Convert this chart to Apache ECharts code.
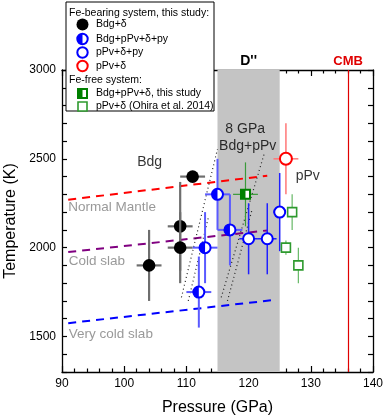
<!DOCTYPE html>
<html><head><meta charset="utf-8">
<script src="https://cdn.jsdelivr.net/npm/echarts@6/dist/echarts.min.js"></script>
<style>html,body{margin:0;padding:0;background:#fff}#c{width:390px;height:420px}</style>
</head><body><div id="c"></div>
<script>
// [pressure GPa, temperature K, pressure error, temperature error]
const bdgDelta = [[104,1900,2,200],[109,2120,2,250],[109,2000,2,200],[111,2400,2,0]];
const bdgPpvDeltaPy = [[112,1750,2,200],[113,2000,2,200],[115,2300,2,200],[117,2100,2,200]];
const ppvDeltaPy = [[120,2050,1.5,200],[123,2050,1.5,200],[125,2200,1,220]];
const ppvDelta = [[126,2500,2,200]];
const feFreeThisStudy = [[119.5,2300,2,180]];
const feFreeOhira = [[127,2200,0.6,100],[126,2000,0.6,40],[128,1900,0.6,100]];
// geotherms [pressure, temperature]
const normalMantle = [[91,2270],[123,2405]];
const coldSlab = [[91,1975],[123,2097]];
const veryColdSlab = [[91,1575],[124,1705]];
// phase boundary (dotted)
const boundaryA = [[109.2,1720],[115.0,2555]];
const boundaryB = [[110.3,1700],[113.6,2180]];
const boundaryC = [[115.6,1720],[122.5,2527]];
const boundaryD = [[116.6,1700],[120.6,2220]];
const dRegion = [115,125];
const cmbPressure = 136;
const xTicks = [90,100,110,120,130,140];
const yTicks = [1500,2000,2500,3000];

const FONT = 'Liberation Sans, Arial, sans-serif';

function render(kind, color, errColor, errWidth, r){
  return function(params, api){
    const P=api.value(0), T=api.value(1), dP=api.value(2), dT=api.value(3);
    const c=api.coord([P,T]);
    const ch=[];
    if(dP>0){const l=api.coord([P-dP,T]), rr=api.coord([P+dP,T]);
      ch.push({type:'line',shape:{x1:l[0],y1:l[1],x2:rr[0],y2:rr[1]},style:{stroke:errColor,lineWidth:errWidth}});}
    if(dT>0){const t=api.coord([P,T+dT]), b=api.coord([P,T-dT]);
      ch.push({type:'line',shape:{x1:t[0],y1:t[1],x2:b[0],y2:b[1]},style:{stroke:errColor,lineWidth:errWidth}});}
    ch.push.apply(ch, marker(kind,c[0],c[1],color,r));
    return {type:'group',children:ch};
  };
}
function marker(kind,x,y,color,r,z){
  const zz = z===undefined?{}:{z:z};
  const el = (o)=>Object.assign(o,zz);
  if(kind==='filled') return [el({type:'circle',shape:{cx:x,cy:y,r:r},style:{fill:color}})];
  if(kind==='open') return [el({type:'circle',shape:{cx:x,cy:y,r:r},style:{fill:'#fff',stroke:color,lineWidth:2}})];
  if(kind==='half') return [
    el({type:'circle',shape:{cx:x,cy:y,r:r},style:{fill:'#fff',stroke:color,lineWidth:2}}),
    el({type:'sector',shape:{cx:x,cy:y,r:r,r0:0,startAngle:Math.PI/2,endAngle:Math.PI*3/2},style:{fill:color}})];
  if(kind==='halfsq') return [
    el({type:'rect',shape:{x:x-r,y:y-r,width:2*r,height:2*r},style:{fill:'#fff',stroke:color,lineWidth:2}}),
    el({type:'rect',shape:{x:x-r,y:y-r,width:r,height:2*r},style:{fill:color}})];
  if(kind==='opensq') return [el({type:'rect',shape:{x:x-r,y:y-r,width:2*r,height:2*r},style:{fill:'#fff',stroke:color,lineWidth:1.6}})];
  return [];
}
function custom(name,data,kind,color,errColor,errWidth,r,z){
  return {name:name,type:'custom',data:data,renderItem:render(kind,color,errColor,errWidth,r),
    encode:{x:0,y:1},z:z||5};
}
function line(data,color,type,width){
  return {type:'line',data:data,symbol:'none',silent:true,z:3,
    lineStyle:{color:color,type:type,width:width},animation:false};
}
function axisCommon(){
  return {axisLine:{show:true,lineStyle:{color:'#000',width:1.3}},
    splitLine:{show:false}};
}

const chart = echarts.init(document.getElementById('c'),null,{renderer:'canvas'});
const txt = (t,p,T,opt)=>Object.assign({name:t,value:[p,T]},opt?{label:opt}:{});

const legendItems = [
  ['head','Fe-bearing system, this study:',12.7],
  ['filled','Bdg+δ',24.5,'#000',6],
  ['half','Bdg+pPv+δ+py',39,'#0000ff',5.2],
  ['open','pPv+δ+py',52.5,'#0000ff',5.2],
  ['open','pPv+δ',66,'#ff0000',5.2],
  ['head','Fe-free system:',80],
  ['halfsq','Bdg+pPv+δ, this study',93.5,'#008000',4.5],
  ['opensq','pPv+δ (Ohira et al. 2014)',106.5,'#2e9a2e',4.5]
];
const legendChildren=[{type:'rect',z:100,shape:{x:66,y:2,width:148,height:109},style:{fill:'#fff',stroke:'#000',lineWidth:1}}];
legendItems.forEach(it=>{
  if(it[0]==='head'){
    legendChildren.push({type:'text',z:102,x:69,y:it[2],style:{text:it[1],fill:'#000',font:'10.5px '+FONT,textVerticalAlign:'middle'}});
  } else {
    marker(it[0],82.5,it[2],it[3],it[4],102).forEach(m=>legendChildren.push(m));
    legendChildren.push({type:'text',z:102,x:96,y:it[2],style:{text:it[1],fill:'#000',font:'10.5px '+FONT,textVerticalAlign:'middle'}});
  }
});

const option = {
  animation:false,
  textStyle:{fontFamily:FONT},
  grid:{left:62,right:17,top:70,bottom:48,outerBoundsMode:'none',containLabel:false},
  xAxis:[
    Object.assign(axisCommon(),{type:'value',position:'bottom',min:xTicks[0],max:xTicks[xTicks.length-1],interval:10,
      name:'Pressure (GPa)',nameLocation:'middle',nameGap:28,
      nameTextStyle:{fontSize:16,color:'#000',fontFamily:FONT},
      axisTick:{inside:true,length:6,lineStyle:{color:'#000',width:1.2}},
      minorTick:{show:true,splitNumber:5,length:3.5,lineStyle:{color:'#000',width:1.2}},
      axisLabel:{fontSize:12,color:'#000',margin:6,fontFamily:FONT}}),
    Object.assign(axisCommon(),{type:'value',position:'top',min:90,max:140,interval:10,
      axisTick:{inside:true,length:6,lineStyle:{color:'#000',width:1.2}},
      minorTick:{show:true,splitNumber:5,length:3.5,lineStyle:{color:'#000',width:1.2}},
      axisLabel:{show:false}})
  ],
  yAxis:[
    Object.assign(axisCommon(),{type:'value',position:'left',min:1300,max:yTicks[yTicks.length-1],interval:100,
      name:'Temperature (K)',nameLocation:'middle',nameGap:42,
      nameTextStyle:{fontSize:16,color:'#000',fontFamily:FONT},
      axisTick:{inside:true,length:5,lineStyle:{color:'#000',width:1.2}},
      axisLabel:{fontSize:12,color:'#000',margin:6,fontFamily:FONT,
        formatter:v=>yTicks.indexOf(v)>=0?String(v):''}}),
    Object.assign(axisCommon(),{type:'value',position:'right',min:1300,max:3000,interval:100,
      axisTick:{inside:true,length:5,lineStyle:{color:'#000',width:1.2}},
      axisLabel:{show:false}})
  ],
  graphic:[{type:'group',z:100,children:legendChildren}],
  series:[
    {type:'line',data:[],z:1,silent:true,
      markArea:{silent:true,itemStyle:{color:'#c4c4c4'},
        label:{show:true,position:'top',distance:2,formatter:"D''",color:'#000',fontWeight:'bold',fontSize:14,fontFamily:FONT},
        data:[[{xAxis:dRegion[0]},{xAxis:dRegion[1]}]]},
      markLine:{silent:true,symbol:'none',lineStyle:{color:'#e00000',type:'solid',width:1.2},
        label:{show:true,position:'end',formatter:'CMB',color:'#e00000',fontWeight:'bold',fontSize:13,fontFamily:FONT,distance:2},
        data:[{xAxis:cmbPressure}]}},
    line(normalMantle,'#ff0000',[8,6],2),
    line(coldSlab,'#800080',[8,6],2),
    line(veryColdSlab,'#0000ff',[8,6],2),
    line(boundaryA,'#222',[1,3],1.2),
    line(boundaryB,'#222',[1,3],1.2),
    line(boundaryC,'#222',[1,3],1.2),
    line(boundaryD,'#222',[1,3],1.2),
    custom('Bdg+δ',bdgDelta,'filled','#000','#6e6e6e',2.2,6.3,6),
    custom('Bdg+pPv+δ+py',bdgPpvDeltaPy,'half','#0000ff','#5a5aff',2,5.5,7),
    custom('pPv+δ+py',ppvDeltaPy,'open','#0000ff','#2020ff',1.5,5.5,7),
    custom('pPv+δ',ppvDelta,'open','#ff0000','#ff7777',1.5,6,7),
    custom('Bdg+pPv+δ, this study',feFreeThisStudy,'halfsq','#008000','#3a9a3a',1.2,4.5,7),
    custom('pPv+δ (Ohira et al. 2014)',feFreeOhira,'opensq','#2e9a2e','#66b866',1.2,4.5,7),
    {type:'scatter',symbolSize:0,silent:true,z:8,
      label:{show:true,position:'inside',formatter:'{b}',color:'#000',fontSize:14,fontFamily:FONT},
      data:[
        txt('Bdg',104.1,2480),
        txt('pPv',129.5,2401),
        txt('8 GPa',119.45,2666),
        txt('Bdg+pPv',119.85,2570),
        txt('Normal Mantle',91,2226,{show:true,position:'right',distance:0,color:'#808080',fontSize:13.5,fontFamily:FONT}),
        txt('Cold slab',91.1,1922,{show:true,position:'right',distance:0,color:'#808080',fontSize:13.5,fontFamily:FONT}),
        txt('Very cold slab',91.1,1511,{show:true,position:'right',distance:0,color:'#808080',fontSize:13.5,fontFamily:FONT})
      ]}
  ]
};
chart.setOption(option);
</script></body></html>
